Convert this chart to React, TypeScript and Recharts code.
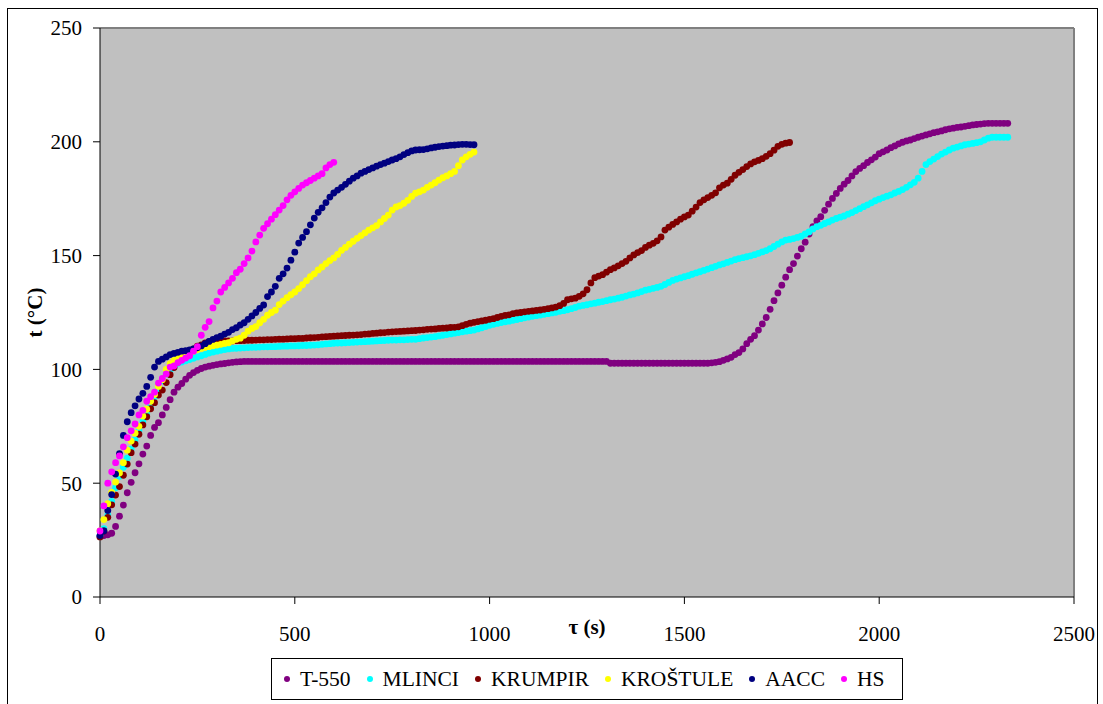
import React from "react";
import {
  ScatterChart,
  Scatter,
  XAxis,
  YAxis,
  CartesianGrid,
  ReferenceLine,
} from "recharts";

// logger sampled every 10 s
const STEP = 10;

const T550 = [
  26.5, 27, 27.3, 28, 31, 35.5, 40.4, 45.8, 50.4, 54.6,
  58.5, 62.8, 66.3, 71, 74.5, 76.6, 80, 83.3, 86.7, 90,
  92.2, 93.8, 95.7, 97.4, 98.6, 99.6, 100.4, 101, 101.4, 101.8,
  102.1, 102.4, 102.6, 102.9, 103.1, 103.3, 103.4, 103.5, 103.5, 103.5,
  103.5, 103.5, 103.5, 103.5, 103.5, 103.5, 103.5, 103.5, 103.5, 103.5,
  103.5, 103.5, 103.5, 103.5, 103.5, 103.5, 103.5, 103.5, 103.5, 103.5,
  103.5, 103.5, 103.5, 103.5, 103.5, 103.5, 103.5, 103.5, 103.5, 103.5,
  103.5, 103.5, 103.5, 103.5, 103.5, 103.5, 103.5, 103.5, 103.5, 103.5,
  103.5, 103.5, 103.5, 103.5, 103.5, 103.5, 103.5, 103.5, 103.5, 103.5,
  103.5, 103.5, 103.5, 103.5, 103.5, 103.5, 103.5, 103.5, 103.5, 103.5,
  103.5, 103.5, 103.5, 103.5, 103.5, 103.5, 103.5, 103.5, 103.5, 103.5,
  103.5, 103.5, 103.5, 103.5, 103.5, 103.5, 103.5, 103.5, 103.5, 103.5,
  103.5, 103.5, 103.5, 103.5, 103.5, 103.5, 103.5, 103.5, 103.5, 103.5,
  103.5, 102.7, 102.7, 102.7, 102.7, 102.7, 102.7, 102.7, 102.7, 102.7,
  102.7, 102.7, 102.7, 102.7, 102.7, 102.7, 102.7, 102.7, 102.7, 102.7,
  102.7, 102.7, 102.7, 102.7, 102.7, 102.7, 102.7, 102.9, 103.1, 103.4,
  104, 104.6, 105.3, 106.5, 107.4, 109, 111.3, 113.2, 114.8, 117.3,
  120, 122.8, 126.4, 130.2, 133.6, 137, 140.5, 143.8, 146.5, 149.8,
  153, 155.9, 159.5, 162.7, 165.2, 167.1, 169.9, 172.6, 175.1, 177.3,
  179.5, 181.4, 183, 185, 186.9, 188.3, 189.5, 190.9, 192.1, 193.3,
  194.8, 195.6, 196.4, 197.4, 198.2, 199.1, 199.8, 200.4, 200.8, 201.4,
  202, 202.5, 203, 203.5, 204, 204.4, 204.8, 205.3, 205.7, 206,
  206.3, 206.5, 206.8, 207.1, 207.4, 207.6, 207.8, 208, 208.1, 208.1,
  208.1, 208.1, 208.1, 208.1,
];

const MLINCI = [
  27, 30, 36, 42, 48, 53, 57, 61, 65, 69,
  73, 77, 80.5, 84, 88, 91.5, 95, 98, 99.5, 101,
  102.7, 103.2, 103.8, 104.3, 104.9, 105.5, 106, 106.6, 107.2, 107.6,
  108, 108.4, 108.7, 109, 109.2, 109.3, 109.4, 109.5, 109.6, 109.7,
  109.7, 109.8, 109.9, 109.9, 110, 110, 110.1, 110.2, 110.2, 110.3,
  110.3, 110.4, 110.5, 110.5, 110.6, 110.7, 110.8, 111, 111.2, 111.3,
  111.5, 111.6, 111.6, 111.7, 111.8, 111.9, 112, 112.1, 112.2, 112.3,
  112.4, 112.5, 112.6, 112.7, 112.8, 112.9, 112.9, 113, 113, 113.1,
  113.2, 113.2, 113.5, 113.8, 114, 114.2, 114.4, 114.7, 115, 115.3,
  115.6, 115.9, 116.2, 116.5, 116.8, 117, 117.3, 117.8, 118.3, 118.8,
  119.4, 119.8, 120.2, 120.6, 120.9, 121.2, 121.6, 121.9, 122.3, 122.7,
  123, 123.3, 123.6, 123.9, 124.2, 124.5, 124.8, 125.1, 125.5, 125.8,
  126.2, 126.7, 127.2, 127.8, 128.1, 128.4, 128.8, 129.1, 129.5, 129.8,
  130.2, 130.6, 130.9, 131.3, 131.7, 132.2, 132.7, 133.1, 133.6, 134.2,
  134.8, 135.2, 135.6, 136, 136.5, 137.3, 138.2, 139.1, 139.7, 140.2,
  140.7, 141.2, 141.8, 142.4, 142.9, 143.5, 144.1, 144.7, 145.3, 145.9,
  146.4, 147, 147.6, 148.2, 148.7, 149.1, 149.5, 149.9, 150.4, 151,
  151.6, 152.2, 153, 154, 155, 156, 156.8, 157.1, 157.5, 158,
  158.5, 159.5, 160.4, 161.7, 162.7, 163.3, 164.1, 164.8, 165.6, 166.3,
  166.9, 167.4, 168.2, 168.9, 169.8, 170.6, 171.5, 172.3, 173.2, 174.1,
  174.8, 175.5, 176.1, 176.7, 177.5, 178.2, 179, 180, 181.1, 182.2,
  184, 187, 190, 191.3, 192.4, 193.5, 194.6, 195.5, 196.4, 197.2,
  197.7, 198.2, 198.7, 199, 199.3, 199.6, 200, 200.8, 201.6, 202,
  202, 202, 202, 202,
];

const KRUMPIR = [
  26.4, 29, 35, 40.5, 44.8, 48.5, 53.5, 58.4, 63.4, 67.2,
  71.5, 75.6, 79.2, 82.7, 85.4, 88.7, 90.9, 94.2, 97.7, 100.8,
  103.2, 105, 106.5, 107.9, 109, 110.2, 110.8, 111.6, 112.2, 112.3,
  112.4, 112.4, 112.5, 112.5, 112.5, 112.6, 112.6, 112.7, 112.8, 112.8,
  112.9, 113, 113, 113.1, 113.1, 113.2, 113.3, 113.3, 113.4, 113.5,
  113.5, 113.6, 113.6, 113.8, 113.9, 114, 114.1, 114.3, 114.4, 114.5,
  114.6, 114.7, 114.8, 114.9, 115, 115.1, 115.2, 115.3, 115.5, 115.6,
  115.8, 115.9, 116.1, 116.2, 116.4, 116.5, 116.6, 116.7, 116.8, 116.9,
  117, 117.1, 117.3, 117.4, 117.6, 117.7, 117.8, 118, 118.1, 118.2,
  118.4, 118.5, 118.7, 119.2, 119.8, 120.3, 120.7, 121, 121.3, 121.6,
  122, 122.3, 122.8, 123.3, 123.7, 124, 124.5, 124.8, 125, 125.3,
  125.5, 125.7, 125.9, 126.1, 126.4, 126.7, 127, 127.4, 128, 129,
  130.6, 131, 131.3, 132.1, 133.2, 135, 138, 140.3, 141, 141.6,
  142.7, 143.8, 144.6, 145.5, 146.5, 147.5, 149, 150.3, 151.3, 152.2,
  153.6, 154.6, 155.4, 156.5, 158.2, 161.2, 162.5, 163.7, 164.8, 166,
  167, 167.8, 169.5, 171.3, 173.3, 174.5, 175.5, 176.5, 177.6, 179.8,
  181, 181.8, 183.5, 185.3, 186.6, 187.8, 189.1, 190.3, 191.2, 191.8,
  192.6, 193.6, 194.8, 196.3, 198, 198.9, 199.4, 199.7,
];

const KROSTULE = [
  29, 34, 41, 46, 50.5, 54.5, 59, 64.5, 68.5, 72,
  75, 79.5, 82.5, 86, 89, 92.5, 95.5, 100, 102.5, 104,
  105, 105.8, 106.5, 107.3, 108, 108.7, 109.2, 109.7, 110, 110.4,
  110.7, 111, 111.4, 111.7, 112.5, 113.2, 113.7, 115, 116.8, 118,
  118.8, 120.5, 122, 123.8, 125, 126, 128.5, 130, 131.5, 132.8,
  134, 135.5, 137.2, 139, 140.7, 142, 143.7, 145, 146.5, 147.8,
  149, 150.5, 152.3, 153.6, 155, 156.3, 157.6, 158.8, 160, 161.2,
  162.2, 163.2, 164.8, 166.3, 167.8, 170, 171.4, 172, 173, 174.3,
  176, 177.4, 178, 178.8, 180, 181, 182, 183.2, 184.2, 185,
  186, 187, 189.5, 192, 193.4, 194.5, 195.5,
];

const AACC = [
  27, 29, 38, 45, 54, 63, 71, 77, 81, 84,
  87, 89.5, 92.5, 96.5, 101, 103.5, 104.5, 105.5, 106.5, 107,
  107.5, 108, 108.2, 108.6, 109, 109.5, 110.3, 111.3, 112.3, 113.2,
  114, 114.6, 115.5, 116.3, 117.5, 118.3, 119.5, 120.5, 122, 123.5,
  125, 126.8, 128.3, 132, 134, 136.5, 140, 142, 144.5, 148,
  151.5, 155.5, 158, 160.5, 163.5, 166.5, 169, 171, 173.3, 175.7,
  177.5, 178.8, 180, 181.3, 182.7, 184, 185, 186.2, 187, 187.8,
  188.5, 189.3, 190, 190.6, 191.3, 192, 192.6, 193.4, 194.4, 195.2,
  196, 196.4, 196.5, 196.6, 196.9, 197.3, 197.6, 197.9, 198.1, 198.3,
  198.5, 198.6, 198.8, 198.9, 198.9, 198.8, 198.7,
];

const HS = [
  29, 40, 50, 55, 59, 62, 66, 70, 73, 76,
  80, 82, 86, 88, 90, 94, 96, 98, 101, 101.5,
  103, 104, 105, 106, 108, 110, 115, 118.5, 121, 127,
  130, 134, 136, 138, 140, 142.5, 144, 146.5, 149, 152,
  156, 159, 162, 164, 166, 168, 170, 172, 174.5, 176.5,
  178, 179.5, 181, 182, 183, 184, 185, 186, 188.5, 190,
  191,
];

const X_TICKS = [0, 500, 1000, 1500, 2000, 2500];
const Y_TICKS = [0, 50, 100, 150, 200, 250];

const SERIES = [
  { name: "T-550", values: T550, color: "#800080" },
  { name: "MLINCI", values: MLINCI, color: "#00FFFF" },
  { name: "KRUMPIR", values: KRUMPIR, color: "#800000" },
  { name: "KROŠTULE", values: KROSTULE, color: "#FFFF00" },
  { name: "AACC", values: AACC, color: "#000080" },
  { name: "HS", values: HS, color: "#FF00FF" },
];

const FONT = "'Times New Roman', 'Liberation Serif', Tinos, 'DejaVu Serif', serif";

const toPoints = (ys: number[]) => ys.map((temp, i) => ({ t: i * STEP, temp }));

function Dot(color: string) {
  return (p: any) => <circle cx={p.cx} cy={p.cy} r={3.4} fill={color} />;
}

export default function App() {
  return (
    <div
      style={{
        position: "absolute",
        left: 7,
        top: 8,
        width: 1091,
        height: 700,
        border: "1px solid #000",
        boxSizing: "border-box",
        background: "#fff",
        fontFamily: FONT,
      }}
    >
      <ScatterChart
        width={1089}
        height={692}
        margin={{ top: 19, right: 23, bottom: 0, left: 0 }}
        style={{ fontFamily: FONT }}
      >
        <CartesianGrid horizontal={false} vertical={false} fill="#C0C0C0" />
        <ReferenceLine y={250} stroke="#808080" strokeWidth={2} />
        <ReferenceLine x={2500} stroke="#808080" strokeWidth={2} />
        <XAxis
          type="number"
          dataKey="t"
          domain={[0, 2500]}
          ticks={X_TICKS}
          height={104}
          tickSize={7}
          tickMargin={22}
          stroke="#000"
          tick={{ fill: "#000", fontSize: 21, fontFamily: FONT }}
          label={(props: any) => {
            const vb = props.viewBox;
            return (
              <text
                x={vb.x + vb.width / 2}
                y={vb.y + 37}
                textAnchor="middle"
                fontSize={21}
                fontWeight="bold"
                style={{ fontFamily: FONT }}
                fill="#000"
              >
                τ (s)
              </text>
            );
          }}
        />
        <YAxis
          type="number"
          dataKey="temp"
          domain={[0, 250]}
          ticks={Y_TICKS}
          width={92}
          tickSize={7}
          tickMargin={11}
          stroke="#000"
          tick={{ fill: "#000", fontSize: 21, fontFamily: FONT }}
          label={(props: any) => {
            const vb = props.viewBox;
            const cx = vb.x + 27;
            const cy = vb.y + vb.height / 2;
            return (
              <text
                x={cx}
                y={cy}
                transform={`rotate(-90 ${cx} ${cy})`}
                textAnchor="middle"
                dominantBaseline="central"
                fontSize={21}
                fontWeight="bold"
                style={{ fontFamily: FONT }}
                fill="#000"
              >
                t (°C)
              </text>
            );
          }}
        />
        {SERIES.map((s) => (
          <Scatter
            key={s.name}
            name={s.name}
            data={toPoints(s.values)}
            fill={s.color}
            shape={Dot(s.color)}
            isAnimationActive={false}
          />
        ))}
      </ScatterChart>

      <div
        style={{
          position: "absolute",
          left: 263,
          top: 649,
          width: 632,
          height: 42,
          border: "1px solid #000",
          boxSizing: "border-box",
          display: "flex",
          alignItems: "center",
          paddingLeft: 12,
          fontSize: 21.5,
          color: "#000",
          whiteSpace: "nowrap",
        }}
      >
        {SERIES.map((s) => (
          <div
            key={s.name}
            style={{ display: "flex", alignItems: "center", marginRight: 16 }}
          >
            <span
              style={{
                width: 6,
                height: 6,
                borderRadius: "50%",
                background: s.color,
                marginRight: 10,
              }}
            />
            <span>{s.name}</span>
          </div>
        ))}
      </div>
    </div>
  );
}
